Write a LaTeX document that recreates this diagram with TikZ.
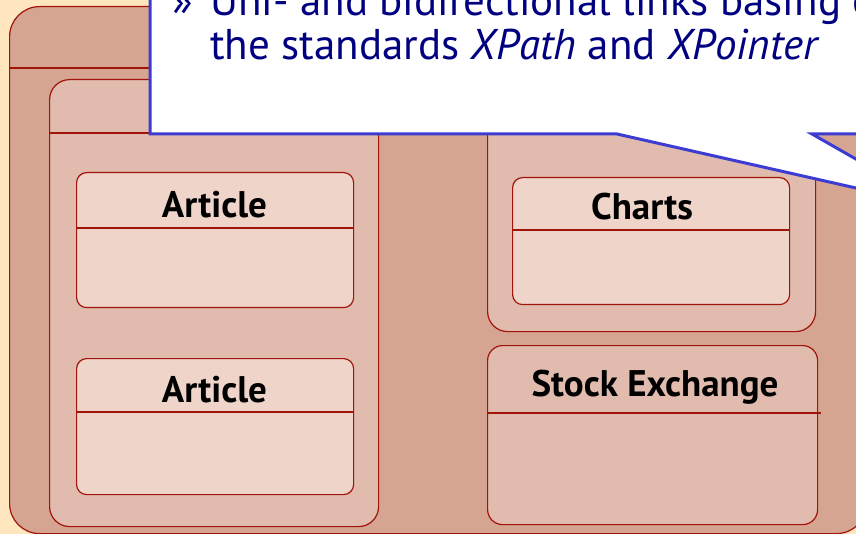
\documentclass[tikz,border=0pt]{standalone}
\usepackage{fontspec}
\setmainfont{PT Sans}
\usetikzlibrary{positioning}
\definecolor{slidebg}{RGB}{255,230,190}
\definecolor{pkgouter}{RGB}{214,165,146}
\definecolor{pkginner}{RGB}{225,188,174}
\definecolor{classfill}{RGB}{239,212,202}
\definecolor{pkgline}{RGB}{160,20,10}
\definecolor{calloutline}{RGB}{60,60,210}
\definecolor{calloutink}{RGB}{0,0,128}
\begin{document}
\begin{tikzpicture}[x=1pt,y=-1pt,
  box/.style={draw=pkgline, line width=1.2pt, anchor=north west, inner sep=0pt},
  outerpkg/.style={box, fill=pkgouter, rounded corners=30pt},
  innerpkg/.style={box, fill=pkginner, rounded corners=20pt},
  classbox/.style={box, fill=classfill, rounded corners=10pt},
  classname/.style={font=\bfseries\fontsize{37}{40}\selectfont, anchor=base},
  bubbletext/.style={text=calloutink, font=\fontsize{43}{48}\selectfont, anchor=base west, inner sep=0pt}]
\useasboundingbox (0,0) rectangle (856,534);
\clip (0,0) rectangle (856,534);
\fill [slidebg] (0,0) rectangle (856,534);

\node [outerpkg, minimum width=857pt, minimum height=527pt] (model) at (9,6) {};
\draw [pkgline, line width=1.2pt] ([yshift=-62pt]model.north west) -- ([yshift=-62pt]model.north east);

\node [innerpkg, minimum width=329pt, minimum height=447pt] (news) at (49,79) {};
\draw [pkgline, line width=1.2pt] ([yshift=-54pt]news.north west) -- ([yshift=-54pt]news.north east);
\node [classbox, minimum width=277pt, minimum height=135pt] (art1) at (76,172) {};
\draw [pkgline, line width=1.2pt] ([yshift=-56pt]art1.north west) -- ([yshift=-56pt]art1.north east);
\node [classname] (art1name) at (214.5,218) {Article};
\node [classbox, minimum width=277pt, minimum height=136pt] (art2) at (76,358) {};
\draw [pkgline, line width=1.2pt] ([yshift=-54pt]art2.north west) -- ([yshift=-54pt]art2.north east);
\node [classname] (art2name) at (214.5,402) {Article};

\node [innerpkg, minimum width=328pt, minimum height=252pt] (finance) at (487,79) {};
\draw [pkgline, line width=1.2pt] ([yshift=-54pt]finance.north west) -- ([yshift=-54pt]finance.north east);
\node [classbox, minimum width=277pt, minimum height=127pt] (charts) at (512,177) {};
\draw [pkgline, line width=1.2pt] ([yshift=-53pt]charts.north west) -- ([yshift=-53pt]charts.north east);
\node [classname] (chartsname) at (642,220) {Charts};

\node [box, fill=pkginner, rounded corners=15pt, minimum width=330pt, minimum height=179pt] (stock) at (487,345) {};
\draw [pkgline, line width=1.2pt] ([yshift=-68pt]stock.north west) -- ([xshift=3pt,yshift=-68pt]stock.north east);
\node [classname] (stockname) at (655,396) {Stock Exchange};

% speech bubble
\coordinate (tip) at (940,207);
\draw [calloutline, fill=white, line width=3pt, line join=miter]
  (150,-60) -- (150,134) -- (617,134) -- (tip) -- (812,134) -- (900,134) -- (900,-60) -- cycle;
\node [bubbletext] (bullet) at (172,16) {»};
\node [bubbletext] (line1) at (210,16) {Uni- and bidirectional links basing on};
\node [bubbletext] (line2) at ([yshift=-44pt]line1.base west) {the standards \textit{XPath} and \textit{XPointer}};
\end{tikzpicture}
\end{document}
